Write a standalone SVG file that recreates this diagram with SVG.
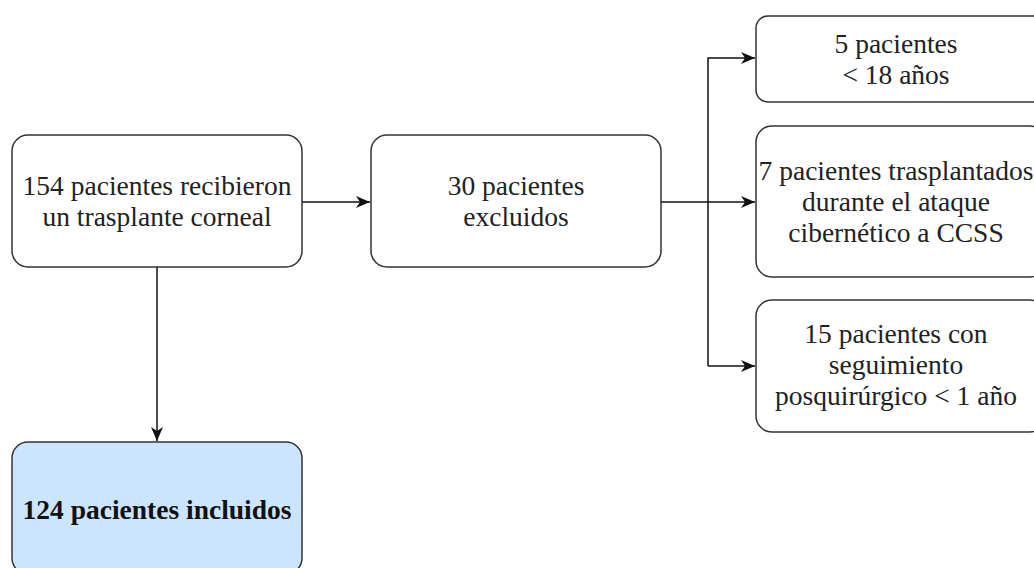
<svg xmlns="http://www.w3.org/2000/svg" width="1034" height="568" viewBox="0 0 1034 568">
<style>
.box{fill:#ffffff;stroke:#333333;stroke-width:1.5}
.inc{fill:#cce5ff;stroke:#333333;stroke-width:1.5}
.t{font-family:"Liberation Serif","Times New Roman",serif;font-size:27.5px;fill:#222222;text-anchor:middle}
.b{font-weight:bold;fill:#111111}
.ln{fill:none;stroke:#111111;stroke-width:1.5}
</style>
<defs>
<marker id="arr" viewBox="0 0 14 12" refX="14" refY="6" markerWidth="14" markerHeight="12" markerUnits="userSpaceOnUse" orient="auto">
<path d="M0,0 L14,6 L0,12 L4,6 Z" fill="#111111"/>
</marker>
</defs>
<rect width="1034" height="568" fill="#ffffff"/>
<g id="connectors">
<path class="ln" d="M302,202 L370,202" marker-end="url(#arr)"/>
<path class="ln" d="M157,267 L157,441" marker-end="url(#arr)"/>
<path class="ln" d="M661,202 L755,202" marker-end="url(#arr)"/>
<path class="ln" d="M708,366 L708,58 L755,58" marker-end="url(#arr)"/>
<path class="ln" d="M708,366 L755,366" marker-end="url(#arr)"/>
</g>
<g id="n1">
<rect class="box" x="12" y="135" width="290" height="132" rx="16"/>
<text class="t" x="157" y="195">154 pacientes recibieron</text>
<text class="t" x="157" y="226">un trasplante corneal</text>
</g>
<g id="n2">
<rect class="box" x="371" y="135" width="290" height="132" rx="16"/>
<text class="t" x="516" y="195">30 pacientes</text>
<text class="t" x="516" y="226">excluidos</text>
</g>
<g id="n3">
<rect class="inc" x="12" y="442" width="290" height="132" rx="16"/>
<text class="t b" x="157" y="519">124 pacientes incluidos</text>
</g>
<g id="r1">
<rect class="box" x="756" y="16" width="290" height="86" rx="12"/>
<text class="t" x="896" y="53">5 pacientes</text>
<text class="t" x="896" y="84">&lt; 18 años</text>
</g>
<g id="r2">
<rect class="box" x="756" y="126" width="290" height="151" rx="16"/>
<text class="t" x="896" y="180">7 pacientes trasplantados</text>
<text class="t" x="896" y="211">durante el ataque</text>
<text class="t" x="896" y="242">cibernético a CCSS</text>
</g>
<g id="r3">
<rect class="box" x="756" y="300" width="290" height="132" rx="16"/>
<text class="t" x="896" y="343">15 pacientes con</text>
<text class="t" x="896" y="374">seguimiento</text>
<text class="t" x="896" y="405">posquirúrgico &lt; 1 año</text>
</g>
</svg>
